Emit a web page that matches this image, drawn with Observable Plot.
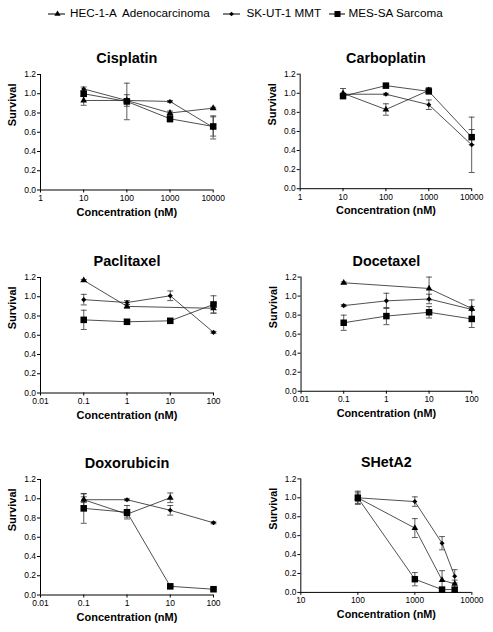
<!DOCTYPE html>
<html><head><meta charset="utf-8">
<script src="https://cdn.jsdelivr.net/npm/d3@7"></script>
<script src="https://cdn.jsdelivr.net/npm/@observablehq/plot@0.6"></script>
<style>
body{margin:0;background:#fff;width:493px;height:632px;position:relative;overflow:hidden;font-family:"Liberation Sans",Arial,sans-serif}
.panel{position:absolute}
.panel svg{overflow:visible}
</style></head><body>
<script>
// ---- data ----
const seriesNames = ["HEC-1-A  Adenocarcinoma", "SK-UT-1 MMT", "MES-SA Sarcoma"];
const seriesSymbols = ["triangle", "diamond2", "square"];
const yTicks = [0, 0.2, 0.4, 0.6, 0.8, 1.0, 1.2];

const platinTicks = [1, 10, 100, 1000, 10000];
const taxTicks = [0.01, 0.1, 1, 10, 100];
const shetaTicks = [10, 100, 1000, 10000];

const cisplatinX = [10, 100, 1000, 10000];
const cisplatinHEC = [0.93, 0.93, 0.80, 0.85];
const cisplatinHECErr = [0.05, 0.06, 0.02, 0.01];
const cisplatinSKUT = [1.05, 0.93, 0.92, 0.65];
const cisplatinSKUTErr = [0.02, 0.02, 0.01, 0.12];
const cisplatinMES = [1.00, 0.92, 0.74, 0.66];
const cisplatinMESErr = [0.03, 0.19, 0.035, 0.10];

const carboplatinX = [10, 100, 1000, 10000];
const carboplatinHEC = [1.00, 0.83, 1.03, null];
const carboplatinHECErr = [0.05, 0.06, 0.03, null];
const carboplatinSKUT = [0.99, 0.99, 0.88, 0.46];
const carboplatinSKUTErr = [0.01, 0.01, 0.05, 0.29];
const carboplatinMES = [0.97, 1.08, 1.02, 0.54];
const carboplatinMESErr = [0.02, 0.01, 0.02, 0.08];

const paclitaxelX = [0.1, 1, 10, 100];
const paclitaxelHEC = [1.17, 0.90, null, 0.88];
const paclitaxelHECErr = [0.01, 0.02, null, 0.05];
const paclitaxelSKUT = [0.97, 0.94, 1.01, 0.63];
const paclitaxelSKUTErr = [0.055, 0.02, 0.05, 0.01];
const paclitaxelMES = [0.76, 0.74, 0.75, 0.92];
const paclitaxelMESErr = [0.10, 0.02, 0.01, 0.09];

const docetaxelX = [0.1, 1, 10, 100];
const docetaxelHEC = [1.14, null, 1.08, 0.87];
const docetaxelHECErr = [0.01, null, 0.12, 0.02];
const docetaxelSKUT = [0.90, 0.95, 0.97, 0.86];
const docetaxelSKUTErr = [0.01, 0.08, 0.05, 0.10];
const docetaxelMES = [0.72, 0.79, 0.83, 0.76];
const docetaxelMESErr = [0.08, 0.09, 0.06, 0.09];

const doxorubicinX = [0.1, 1, 10, 100];
const doxorubicinHEC = [0.99, 0.84, 1.01, null];
const doxorubicinHECErr = [0.06, 0.03, 0.05, null];
const doxorubicinSKUT = [0.99, 0.99, 0.88, 0.75];
const doxorubicinSKUTErr = [0.03, 0.01, 0.05, 0.01];
const doxorubicinMES = [0.90, 0.86, 0.09, 0.06];
const doxorubicinMESErr = [0.155, 0.07, 0.01, 0.01];

const shetaX = [100, 1000, 3000, 5000];
const shetaHEC = [1.00, 0.68, 0.13, 0.09];
const shetaHECErr = [0.06, 0.10, 0.10, 0.04];
const shetaSKUT = [1.00, 0.96, 0.52, 0.17];
const shetaSKUTErr = [0.04, 0.05, 0.07, 0.07];
const shetaMES = [1.00, 0.14, 0.03, 0.03];
const shetaMESErr = [0.07, 0.07, 0.02, 0.02];

// ---- layout ----
const panels = [
  {title: "Cisplatin", x: cisplatinX, ys: [cisplatinHEC, cisplatinSKUT, cisplatinMES], es: [cisplatinHECErr, cisplatinSKUTErr, cisplatinMESErr], domain: [1, 10000], ticks: platinTicks, left: 40, right: 212.7, top: 74.3},
  {title: "Carboplatin", x: carboplatinX, ys: [carboplatinHEC, carboplatinSKUT, carboplatinMES], es: [carboplatinHECErr, carboplatinSKUTErr, carboplatinMESErr], domain: [1, 10000], ticks: platinTicks, left: 300, right: 473, top: 74.3},
  {title: "Paclitaxel", x: paclitaxelX, ys: [paclitaxelHEC, paclitaxelSKUT, paclitaxelMES], es: [paclitaxelHECErr, paclitaxelSKUTErr, paclitaxelMESErr], domain: [0.01, 100], ticks: taxTicks, left: 40, right: 213, top: 277.3},
  {title: "Docetaxel", x: docetaxelX, ys: [docetaxelHEC, docetaxelSKUT, docetaxelMES], es: [docetaxelHECErr, docetaxelSKUTErr, docetaxelMESErr], domain: [0.01, 100], ticks: taxTicks, left: 301, right: 473.7, top: 277.3},
  {title: "Doxorubicin", x: doxorubicinX, ys: [doxorubicinHEC, doxorubicinSKUT, doxorubicinMES], es: [doxorubicinHECErr, doxorubicinSKUTErr, doxorubicinMESErr], domain: [0.01, 100], ticks: taxTicks, left: 40, right: 213, top: 479},
  {title: "SHetA2", x: shetaX, ys: [shetaHEC, shetaSKUT, shetaMES], es: [shetaHECErr, shetaSKUTErr, shetaMESErr], domain: [10, 10000], ticks: shetaTicks, left: 301, right: 475, top: 479}
];

const symbolR = [2.5, 2.3, 3.7];
const capSymbol = {draw(ctx, size) { const w = Math.sqrt(size / Math.PI); ctx.moveTo(-w, 0); ctx.lineTo(w, 0); }};
const font = "'Liberation Sans', Arial, sans-serif";

function makePanel(cfg) {
  const rows = [];
  cfg.ys.forEach((ys, si) => ys.forEach((v, i) => {
    if (v != null) rows.push({s: si, x: cfg.x[i], y: v, e: cfg.es[si][i]});
  }));
  const plotW = cfg.right - cfg.left, plotH = 115.5;
  const mL = 40, mR = 22, mT = 36, mB = 40;
  const fmtX = d3.format("~g");
  const chart = Plot.plot({
    width: plotW + mL + mR, height: plotH + mT + mB,
    marginLeft: mL, marginRight: mR, marginTop: mT, marginBottom: mB,
    style: {fontFamily: font, fontSize: "8.5px", color: "black", background: "transparent", overflow: "visible"},
    x: {type: "log", domain: cfg.domain},
    y: {domain: [0, 1.2]},
    marks: [
      Plot.axisX({ticks: cfg.ticks, tickFormat: fmtX, tickSize: 3, tickPadding: 2, label: null}),
      Plot.axisY({ticks: yTicks, tickFormat: d3.format(".1f"), tickSize: 3, tickPadding: 1.5, label: null}),
      Plot.ruleX([cfg.domain[0]], {y1: 0, y2: 1.2, stroke: "black"}),
      Plot.ruleY([0], {x1: cfg.domain[0], x2: cfg.domain[1], stroke: "black"}),
      Plot.line(rows, {x: "x", y: "y", z: "s", stroke: "#222", strokeWidth: 0.8}),
      Plot.ruleX(rows, {x: "x", y1: d => d.y - d.e, y2: d => d.y + d.e, stroke: "#333", strokeWidth: 0.8}),
      Plot.dot(rows, {x: "x", y: d => d.y + d.e, symbol: capSymbol, r: 3, fill: "none", stroke: "#333", strokeWidth: 0.8}),
      Plot.dot(rows, {x: "x", y: d => d.y - d.e, symbol: capSymbol, r: 3, fill: "none", stroke: "#333", strokeWidth: 0.8}),
      ...[0, 1, 2].map(si => Plot.dot(rows.filter(d => d.s === si), {x: "x", y: "y", symbol: seriesSymbols[si], r: symbolR[si], fill: "black", stroke: "none"})),
      Plot.text([cfg.title], {frameAnchor: "top", dy: -22, fontWeight: "bold", fontSize: 14.5, fill: "black"}),
      Plot.text(["Survival"], {frameAnchor: "left", rotate: -90, dx: -28, dy: -6, fontWeight: "bold", fontSize: 11, fill: "black"}),
      Plot.text(["Concentration (nM)"], {frameAnchor: "bottom", dy: 26, fontWeight: "bold", fontSize: 11, fill: "black"})
    ]
  });
  const div = document.createElement("div");
  div.className = "panel";
  div.style.left = (cfg.left - mL) + "px";
  div.style.top = (cfg.top - mT) + "px";
  div.appendChild(chart);
  document.body.appendChild(div);
}
panels.forEach(makePanel);

// ---- legend ----
const legendItems = [
  {x0: 48, x1: 65, mx: 57.5, tx: 70},
  {x0: 223, x1: 240, mx: 231.5, tx: 246.5},
  {x0: 329, x1: 345, mx: 337.5, tx: 348.5}
];
const ns = "http://www.w3.org/2000/svg";
const lsvg = document.createElementNS(ns, "svg");
lsvg.setAttribute("width", 493); lsvg.setAttribute("height", 30);
lsvg.style.position = "absolute"; lsvg.style.left = "0px"; lsvg.style.top = "0px";
const symMap = {triangle: d3.symbolTriangle, diamond2: d3.symbolDiamond2, square: d3.symbolSquare};
legendItems.forEach((it, i) => {
  const ly = 14;
  const line = document.createElementNS(ns, "line");
  line.setAttribute("x1", it.x0); line.setAttribute("x2", it.x1);
  line.setAttribute("y1", ly); line.setAttribute("y2", ly);
  line.setAttribute("stroke", "black"); line.setAttribute("stroke-width", 1);
  lsvg.appendChild(line);
  const p = document.createElementNS(ns, "path");
  p.setAttribute("d", d3.symbol(symMap[seriesSymbols[i]], Math.PI * symbolR[i] * symbolR[i] * 0.85)());
  p.setAttribute("transform", `translate(${it.mx},${ly})`);
  p.setAttribute("fill", "black");
  lsvg.appendChild(p);
  const t = document.createElementNS(ns, "text");
  t.setAttribute("x", it.tx); t.setAttribute("y", ly);
  t.setAttribute("dominant-baseline", "middle");
  t.setAttribute("font-family", font);
  t.setAttribute("font-size", "11.7px");
  t.style.whiteSpace = "pre";
  t.textContent = seriesNames[i];
  lsvg.appendChild(t);
});
document.body.appendChild(lsvg);
</script>
</body></html>
